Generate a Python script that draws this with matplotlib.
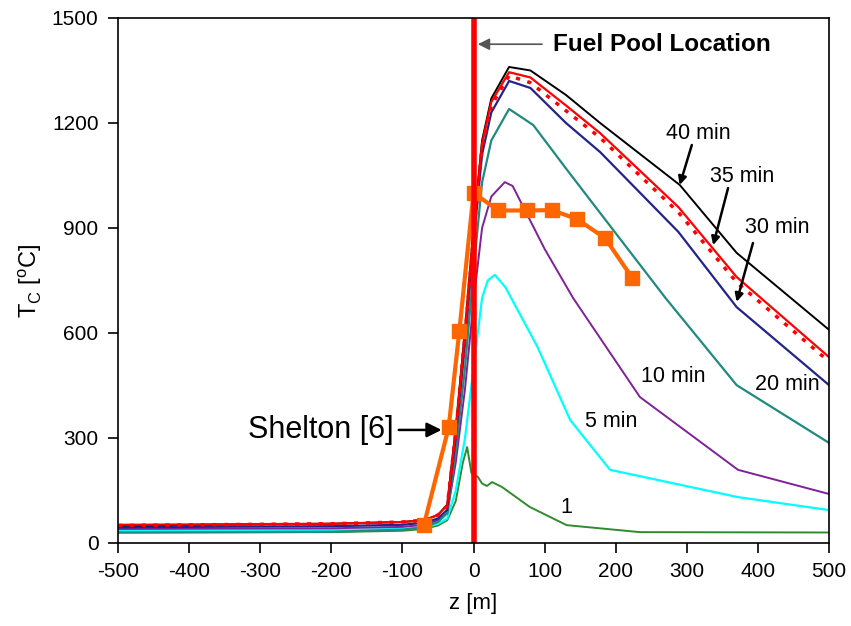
import numpy as np
import matplotlib.pyplot as plt

plt.rcParams['font.family'] = ['Liberation Sans', 'DejaVu Sans']
plt.rcParams['axes.unicode_minus'] = False

# axial position [m] and cladding temperature [C] for each time
z_40 = [-500, -200, -100, -70, -50, -37, -25, -12, 0, 12, 25, 50, 80, 130, 178, 290, 370, 500]
t_40 = [50, 55, 60, 65, 80, 110, 330, 610, 900, 1150, 1270, 1360, 1350, 1280, 1200, 1023, 829, 609]

z_35 = [-500, -200, -100, -70, -50, -37, -25, -12, 0, 12, 25, 50, 80, 130, 178, 288, 370, 500]
t_35 = [52, 55, 60, 65, 80, 108, 320, 600, 890, 1140, 1260, 1345, 1330, 1250, 1171, 960, 760, 531]

z_35d = [-500, -200, -100, -70, -50, -37, -25, -12, 0, 12, 25, 50, 80, 130, 178, 288, 370, 500]
t_35d = [50, 55, 60, 65, 80, 105, 315, 595, 880, 1130, 1250, 1335, 1315, 1235, 1158, 945, 745, 518]

z_30 = [-500, -200, -100, -70, -50, -37, -25, -12, 0, 12, 25, 50, 80, 130, 178, 288, 370, 500]
t_30 = [45, 48, 52, 58, 70, 95, 300, 570, 860, 1110, 1230, 1320, 1300, 1200, 1117, 889, 674, 451]

z_20 = [-500, -200, -100, -70, -50, -37, -25, -12, 0, 12, 25, 50, 84, 130, 178, 270, 370, 500]
t_20 = [30, 32, 38, 45, 60, 85, 260, 500, 780, 1030, 1150, 1240, 1194, 1070, 943, 700, 451, 286]

z_10 = [-500, -200, -100, -70, -50, -37, -25, -12, 0, 12, 25, 44, 55, 100, 140, 234, 372, 500]
t_10 = [40, 42, 46, 52, 65, 85, 230, 440, 690, 900, 990, 1031, 1020, 840, 700, 417, 209, 140]

z_5 = [-500, -200, -100, -70, -50, -37, -25, -12, 0, 12, 20, 30, 45, 90, 136, 192, 372, 500]
t_5 = [35, 37, 40, 45, 55, 70, 150, 300, 500, 700, 750, 766, 730, 560, 351, 209, 131, 94]

z_1 = [-500, -200, -100, -70, -50, -37, -25, -15, -9, -3, 6, 12, 19, 26, 40, 79, 131, 234, 500]
t_1 = [30, 31, 35, 40, 50, 65, 120, 230, 274, 200, 189, 170, 163, 174, 160, 103, 51, 31, 30]

shelton_z = [-70, -35, -20, 0, 35, 75, 110, 145, 185, 223]
shelton_t = [50, 330, 605, 1000, 950, 950, 951, 926, 871, 758]

fig = plt.figure(figsize=(8.51, 6.26), dpi=100)
ax = fig.add_axes([0.1387, 0.1326, 0.8355, 0.8387])

ax.plot(z_1, t_1, color='#2E8B2E', lw=1.4)
ax.plot(z_5, t_5, color='#00FFFF', lw=1.6)
ax.plot(z_10, t_10, color='#80209A', lw=1.4)
ax.plot(z_20, t_20, color='#1F8A80', lw=1.6)
ax.plot(z_30, t_30, color='#23238C', lw=1.6)
ax.plot(z_40, t_40, color='black', lw=1.4)
ax.plot(z_35, t_35, color='#FF0000', lw=1.6)
ax.plot(z_35d, t_35d, color='#FF0000', lw=2.5, ls=(0, (1.2, 2.2)))
ax.plot(shelton_z, shelton_t, color='#FF6600', lw=3, marker='s', ms=10)

# fuel pool location
ax.axvline(0, color='#FF0000', lw=4)

ax.set_xlim(-500, 500)
ax.set_ylim(0, 1500)
ax.set_xticks(np.arange(-500, 501, 100))
ax.set_yticks(np.arange(0, 1501, 300))
ax.tick_params(direction='out', length=7, width=1.2, labelsize=15, pad=7)
for s in ax.spines.values():
    s.set_linewidth(1.2)
ax.set_xlabel('z [m]', fontsize=16, labelpad=8)
ax.set_ylabel(r'T$_\mathregular{C}$ [$^\mathregular{o}$C]', fontsize=17, labelpad=6)

ax.annotate('Fuel Pool Location', xy=(6, 1425), xytext=(112, 1425),
            fontsize=17.5, fontweight='bold', va='center', ha='left',
            arrowprops=dict(arrowstyle='-|>', color='#555555', lw=1.2, shrinkB=0, shrinkA=6))

kw = dict(arrowstyle='-|>', color='black', lw=1.8, shrinkA=0, shrinkB=0, mutation_scale=12)
ax.text(316, 1171, '40 min', fontsize=15.5, ha='center', va='center')
ax.annotate('', xy=(290, 1023), xytext=(307, 1137), arrowprops=kw)
ax.text(378, 1046, '35 min', fontsize=15.5, ha='center', va='center')
ax.annotate('', xy=(337, 851), xytext=(358, 1014), arrowprops=kw)
ax.text(427, 900, '30 min', fontsize=15.5, ha='center', va='center')
ax.annotate('', xy=(370, 689), xytext=(393, 857), arrowprops=kw)

ax.text(441, 454, '20 min', fontsize=15.5, ha='center', va='center')
ax.text(281, 477, '10 min', fontsize=15.5, ha='center', va='center')
ax.text(193, 346, '5 min', fontsize=15.5, ha='center', va='center')
ax.text(131, 100, '1', fontsize=15.5, ha='center', va='center')

ax.annotate('Shelton [6]', xy=(-45, 323), xytext=(-113, 323),
            fontsize=22, ha='right', va='center',
            arrowprops=dict(arrowstyle='-|>', color='black', lw=1.8, shrinkA=2, shrinkB=0))

fig.savefig('out.png', dpi=100)
